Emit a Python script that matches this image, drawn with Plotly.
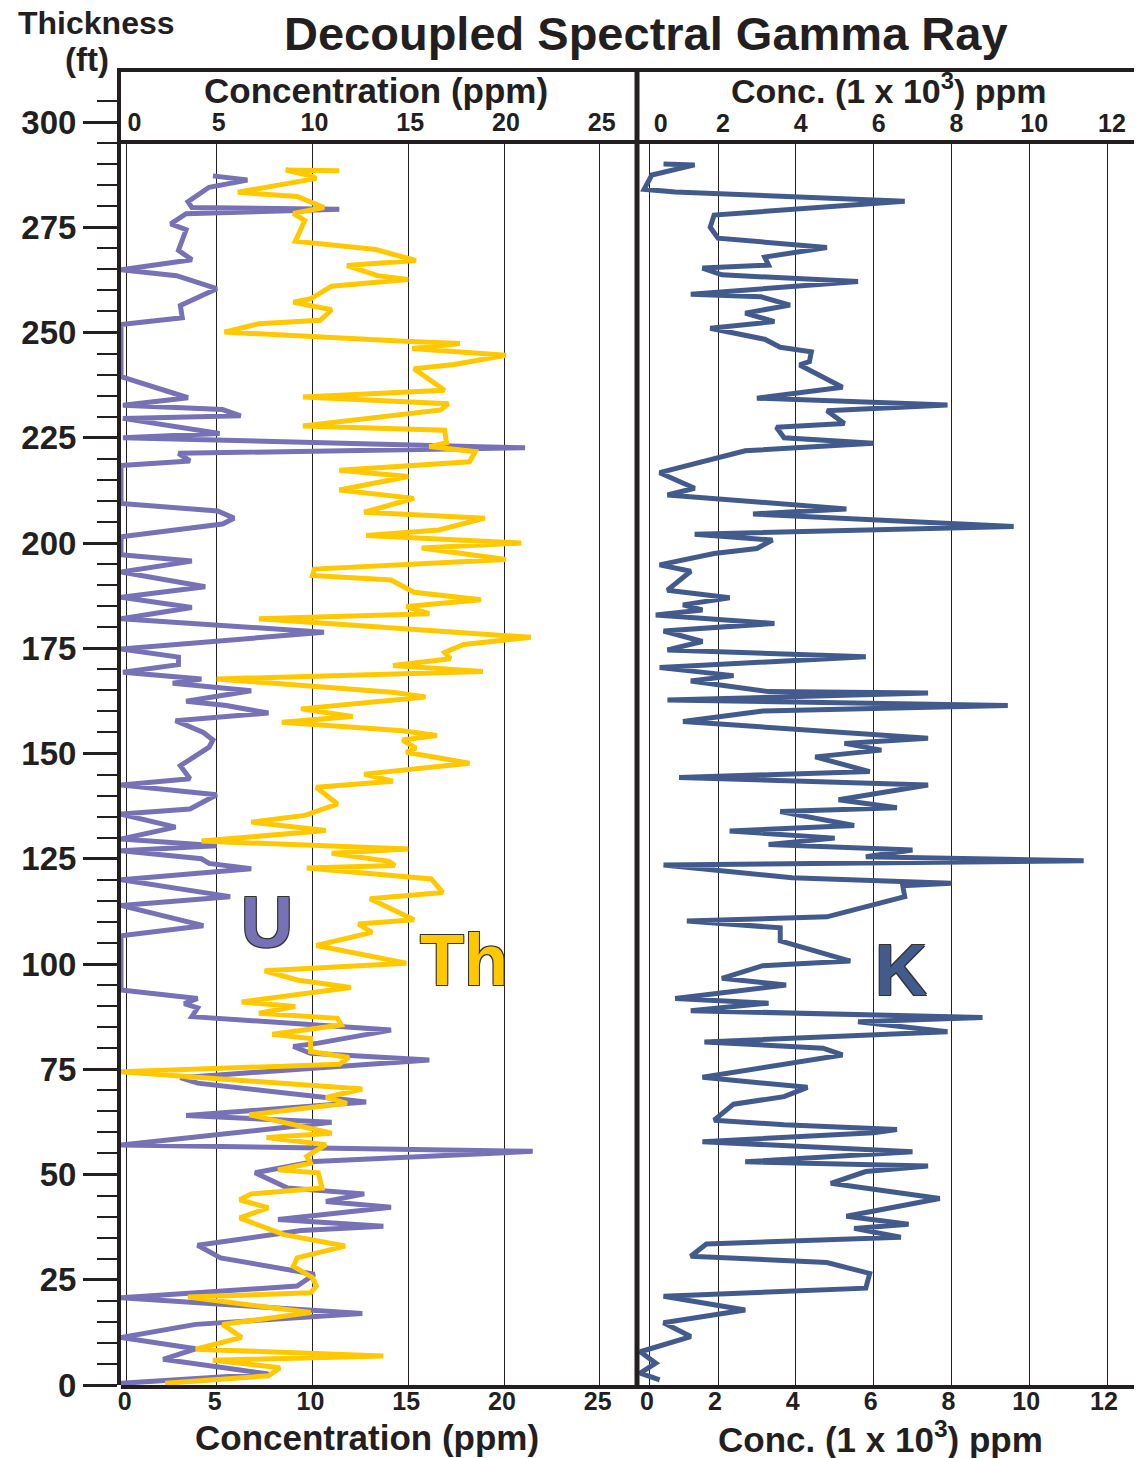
import plotly.graph_objects as go

# ---------------- data ----------------
U_ft = [287.2, 286.2, 284.5, 281.1, 279.7, 279.3, 278.2, 275.8, 274.4, 269.5, 267.3, 264.9, 263.5, 260.4,
        256.4, 253.5, 251.9, 239.5, 234.5, 232.7, 231.7, 230.2, 229.6, 226.0, 225.0, 222.6, 221.3, 219.5,
        218.4, 209.4, 207.6, 205.9, 204.5, 201.5, 197.2, 195.7, 193.1, 189.6, 187.1, 184.7, 182.0, 178.8,
        174.8, 172.9, 171.1, 169.3, 167.7, 166.7, 164.9, 162.4, 161.4, 159.6, 157.8, 155.0, 153.2, 151.5,
        147.1, 144.0, 142.5, 140.2, 136.8, 135.6, 132.5, 129.7, 128.1, 126.9, 125.0, 123.9, 122.6, 120.0,
        116.0, 113.9, 109.1, 106.7, 93.8, 91.8, 90.6, 89.6, 87.5, 85.5, 84.3, 81.2, 80.4, 78.8, 77.2,
        73.0, 71.7, 67.2, 64.0, 62.4, 57.0, 55.5, 53.1, 50.4, 46.8, 45.4, 43.6, 42.2, 39.3, 37.7, 36.7,
        33.2, 30.2, 26.3, 23.5, 20.7, 17.0, 14.4, 11.3, 8.6, 6.1, 2.6, 0.4]
U_ppm = [4.8, 6.6, 4.6, 3.5, 3.7, 11.4, 3.4, 2.6, 3.4, 3.0, 3.7, 0.0, 2.9, 5.0,
         3.1, 3.2, 0.0, 0.0, 3.5, 0.1, 5.3, 6.25, 0.1, 5.15, 0.1, 21.1, 3.0, 3.6,
         0.0, 0.0, 5.05, 5.9, 5.3, 0.0, 0.0, 3.7, 0.0, 4.4, 0.0, 3.7, 0.0, 10.6,
         0.0, 3.0, 3.0, 0.1, 4.2, 2.7, 6.8, 3.4, 5.5, 7.7, 2.85, 4.3, 4.8, 4.6,
         3.1, 3.6, 0.0, 5.0, 3.6, 0.0, 2.85, 0.0, 5.0, 0.0, 4.2, 4.6, 6.8, 0.0,
         5.7, 0.0, 4.3, 0.0, 0.0, 4.0, 3.3, 4.0, 3.7, 10.1, 14.1, 10.3, 9.0, 9.9, 16.1,
         3.1, 4.0, 12.8, 3.4, 11.0, 0.0, 21.5, 10.1, 7.0, 8.7, 12.7, 10.7, 14.1, 8.2, 13.7, 9.4,
         4.0, 5.2, 10.1, 9.2, 0.0, 12.6, 3.9, 0.0, 3.9, 2.2, 7.7, 0.0]

TH_ft = [288.4, 288.6, 287.2, 286.6, 283.3, 282.3, 279.7, 278.3, 276.6, 271.7, 269.7, 267.1, 265.9, 263.5,
         262.6, 261.0, 258.0, 257.2, 255.4, 252.9, 252.1, 250.1, 247.9, 247.4, 246.2, 244.6, 242.4, 241.4,
         236.3, 234.7, 233.1, 231.6, 227.8, 226.8, 223.8, 222.9, 221.7, 219.3, 217.3, 215.8, 212.6, 210.6,
         207.3, 205.9, 203.1, 201.8, 200.0, 198.8, 196.1, 193.8, 192.3, 191.2, 188.3, 186.5, 184.9, 183.2,
         182.0, 177.6, 175.9, 174.0, 172.5, 170.9, 169.5, 167.7, 164.5, 163.4, 160.6, 158.8, 157.4, 155.4,
         154.3, 153.2, 151.3, 150.3, 147.7, 145.1, 143.4, 142.0, 138.0, 135.3, 133.7, 131.7, 129.2, 127.3,
         126.3, 124.4, 123.4, 122.8, 120.2, 117.0, 115.5, 110.5, 109.5, 107.5, 104.4, 100.2, 98.4, 96.2,
         94.4, 91.0, 89.9, 88.3, 87.1, 85.5, 83.3, 82.3, 79.2, 77.8, 76.2, 74.4, 70.3, 68.3, 66.9, 64.2,
         59.8, 58.8, 57.1, 54.3, 52.7, 51.1, 50.4, 46.8, 45.4, 44.0, 42.1, 39.7, 35.7, 33.0, 30.2, 28.2,
         25.5, 23.5, 21.9, 20.9, 17.2, 14.4, 11.3, 8.5, 6.9, 5.9, 4.1, 2.2, 0.4]
TH_ppm = [11.4, 8.6, 9.9, 10.2, 6.1, 9.2, 10.6, 9.0, 9.6, 9.1, 13.3, 15.4, 11.8, 13.4,
          15.0, 11.0, 9.9, 9.0, 11.0, 10.4, 7.2, 5.4, 14.8, 17.7, 15.2, 20.1, 17.4, 15.3,
          16.9, 9.5, 17.1, 16.7, 9.5, 16.9, 17.0, 16.1, 18.5, 18.2, 11.4, 15.0, 11.4, 15.3,
          12.7, 19.0, 16.6, 12.8, 20.9, 15.7, 20.1, 10.1, 10.0, 14.1, 15.3, 18.8, 14.9, 16.1,
          7.2, 21.4, 17.9, 16.9, 17.2, 14.2, 18.9, 5.0, 14.3, 15.9, 9.4, 12.1, 8.4, 14.7,
          16.5, 14.7, 15.4, 14.9, 18.2, 12.7, 14.2, 10.2, 11.3, 9.6, 6.8, 10.7, 4.2, 15.0,
          11.0, 14.0, 14.3, 9.7, 16.2, 16.8, 13.0, 15.3, 12.4, 13.1, 10.2, 14.9, 7.5, 9.2,
          12.0, 6.3, 9.1, 7.2, 11.3, 11.5, 7.9, 9.9, 9.9, 11.9, 11.4, 0.0, 12.6, 10.7, 11.8, 6.7,
          11.0, 7.6, 10.7, 9.7, 9.9, 8.2, 10.3, 10.5, 6.8, 6.2, 7.7, 6.2, 8.5, 11.7, 9.2, 9.0,
          10.0, 10.2, 9.9, 3.5, 9.9, 5.3, 6.3, 3.9, 13.7, 4.8, 8.3, 7.7, 2.3]

K_ft = [290.0, 289.8, 287.4, 284.0, 283.4, 281.2, 277.9, 275.0, 272.4, 270.2, 267.9, 266.0, 265.3, 263.7,
        262.1, 259.1, 258.5, 256.5, 254.6, 252.6, 251.0, 248.4, 246.5, 245.4, 243.1, 242.3, 237.0, 234.4,
        232.8, 231.4, 228.4, 227.5, 225.0, 223.7, 221.9, 216.7, 213.0, 211.4, 208.1, 206.9, 203.9, 202.1,
        200.7, 198.7, 197.5, 194.8, 193.3, 188.8, 187.0, 185.3, 184.1, 182.9, 180.9, 179.1, 176.6, 174.6,
        173.0, 170.4, 168.5, 167.2, 164.7, 164.4, 162.7, 161.4, 160.1, 157.6, 153.6, 152.4, 150.8, 149.2,
        145.7, 144.3, 142.5, 139.0, 137.1, 136.2, 132.9, 131.6, 129.9, 128.4, 127.1, 125.5, 124.5, 123.5,
        120.5, 119.2, 118.6, 116.0, 111.2, 110.2, 108.6, 105.5, 100.7, 99.6, 96.6, 95.0, 91.8, 90.7,
        88.9, 87.3, 86.3, 83.9, 81.5, 80.0, 78.4, 73.1, 70.7, 68.5, 66.7, 62.9, 61.8, 60.7, 59.9,
        57.8, 55.4, 53.0, 52.0, 50.7, 47.9, 44.3, 40.1, 38.2, 37.2, 35.1, 33.5, 30.6, 29.1, 26.5,
        23.0, 21.1, 17.8, 14.8, 11.5, 7.9, 5.2, 2.8, 1.2]
K_kppm = [0.6, 1.4, 0.3, 0.1, 0.9, 6.8, 1.9, 1.8, 2.0, 4.8, 3.2, 3.3, 1.6, 2.1,
          5.6, 1.3, 3.1, 3.85, 2.7, 3.45, 1.8, 3.2, 3.6, 4.4, 4.35, 4.1, 5.2, 3.0,
          7.9, 4.8, 5.25, 3.5, 3.7, 6.0, 2.7, 0.5, 1.4, 0.7, 5.3, 2.9, 9.6, 1.4,
          3.4, 3.0, 1.9, 0.5, 1.3, 0.7, 2.3, 1.1, 1.6, 0.4, 3.45, 0.6, 1.6, 0.7,
          5.8, 0.5, 2.4, 1.3, 3.3, 7.4, 0.7, 9.45, 3.15, 1.1, 7.4, 5.25, 6.2, 4.5,
          5.9, 1.0, 7.4, 5.1, 6.6, 3.6, 5.5, 2.3, 5.0, 3.3, 7.0, 5.8, 11.4, 0.6,
          3.9, 8.0, 6.75, 6.8, 4.8, 1.2, 3.6, 3.6, 5.4, 3.15, 2.1, 3.75, 0.9, 3.3,
          1.3, 8.8, 5.6, 7.9, 1.65, 4.7, 5.2, 1.6, 4.3, 3.7, 2.4, 1.9, 3.7, 6.6, 6.0,
          1.6, 7.0, 2.7, 7.4, 5.8, 4.9, 7.7, 5.3, 6.9, 5.5, 6.7, 1.7, 1.3, 4.8, 5.9,
          5.8, 0.6, 2.7, 0.6, 1.3, 0.0, 0.4, 0.0, 0.5]

UTH_TICKS = [0, 5, 10, 15, 20, 25]
K_TICKS = [0, 2, 4, 6, 8, 10, 12]
DEPTH_MAJOR = list(range(0, 301, 25))
DEPTH_MINOR = [v for v in range(5, 306, 5) if v % 25]

# ---------------- layout geometry ----------------
# the page body has an 8 px margin, so the figure is made 8 px smaller and
# all reference pixel positions are shifted by that amount
OFF = 8
W, H = 1142 - OFF, 1458 - OFF
PLOT_L, PLOT_R, PLOT_T, PLOT_B = 121, 1142, 70, 1385          # reference pixels
ML, MR, MT, MB = PLOT_L - OFF, 0, PLOT_T - OFF, H - (PLOT_B - OFF)
PW, PH = PLOT_R - PLOT_L, PLOT_B - PLOT_T


def px(xp):
    return (xp - PLOT_L) / PW


def py(yp):
    return (PLOT_B - yp) / PH


FT_PER_PX = 1 / 4.21
Y_FULL = [0, PH * FT_PER_PX]
HDR = py(142)
Y_DATA = [0, Y_FULL[1] * HDR]
DIV = px(637)
XL = [0, (637 - 121) / 19.15]
XR = [(637 - 640.2) / 38.9, (1142 - 640.2) / 38.9]

INK = "#231f20"
FONT = "Liberation Sans, Arial, Helvetica, sans-serif"
U_COL = "#7771b5"
TH_COL = "#ffc800"
K_COL = "#435b8c"
LW = 5


def f(size, color=INK):
    return dict(family=FONT, size=size, color=color, weight="bold")


fig = go.Figure()
fig.add_trace(go.Scatter(x=U_ppm, y=U_ft, mode="lines", line=dict(color=U_COL, width=LW),
                         xaxis="x", yaxis="y", name="U"))
fig.add_trace(go.Scatter(x=TH_ppm, y=TH_ft, mode="lines", line=dict(color=TH_COL, width=LW),
                         xaxis="x", yaxis="y", name="Th"))
fig.add_trace(go.Scatter(x=K_kppm, y=K_ft, mode="lines", line=dict(color=K_COL, width=LW),
                         xaxis="x2", yaxis="y2", name="K"))
# carriers for the auxiliary axes
for xa, ya in (("x3", "y"), ("x4", "y2"), ("x5", "y3")):
    fig.add_trace(go.Scatter(x=[None], y=[None], xaxis=xa, yaxis=ya, mode="lines",
                             showlegend=False, hoverinfo="skip"))

common_x = dict(showgrid=True, gridcolor=INK, gridwidth=1.2, zeroline=False, showline=True,
                linewidth=4, linecolor=INK, ticks="", tickfont=f(25), ticklabelstandoff=-9)
fig.update_layout(
    width=W, height=H, margin=dict(l=ML, r=MR, t=MT, b=MB),
    paper_bgcolor="white", plot_bgcolor="rgba(0,0,0,0)", showlegend=False,
    xaxis=dict(domain=[0, DIV], range=XL, anchor="y", tickvals=[0.3] + UTH_TICKS[1:],
               ticktext=[str(v) for v in UTH_TICKS], ticklabelshift=-2, **common_x),
    yaxis=dict(domain=[0, HDR], range=Y_DATA, anchor="x", showticklabels=False,
               showgrid=False, zeroline=False, ticks=""),
    xaxis2=dict(domain=[DIV, 1], range=XR, anchor="y2", tickvals=[0.25] + K_TICKS[1:],
                ticktext=[str(v) for v in K_TICKS], ticklabelshift=-3, **common_x),
    yaxis2=dict(domain=[0, HDR], range=Y_DATA, anchor="x2", showticklabels=False,
                showgrid=False, zeroline=False, ticks=""),
    xaxis3=dict(overlaying="x", anchor="free", position=py(136), side="top", range=XL,
                tickvals=[0.6] + UTH_TICKS[1:], ticktext=[str(v) for v in UTH_TICKS],
                showgrid=False, zeroline=False, showline=False, ticks="", tickfont=f(25),
                ticklabelshift=2),
    xaxis4=dict(overlaying="x2", anchor="free", position=py(137), side="top", range=XR,
                tickvals=[0.4] + K_TICKS[1:], ticktext=[str(v) for v in K_TICKS],
                showgrid=False, zeroline=False, showline=False, ticks="", tickfont=f(25),
                ticklabelshift=5),
    xaxis5=dict(domain=[0, 1], range=[0, 1], anchor="y3", visible=False),
    yaxis3=dict(domain=[0, 1], range=Y_FULL, anchor="x5", side="left", tickvals=DEPTH_MAJOR,
                ticks="outside", ticklen=34, tickwidth=2.5, tickcolor=INK, showline=True,
                linewidth=4, linecolor=INK, showgrid=False, zeroline=False, tickfont=f(33),
                minor=dict(tickvals=DEPTH_MINOR, ticks="outside", ticklen=20, tickwidth=2,
                           tickcolor=INK)),
)

# frame of the log panels
line = dict(color=INK, width=4)
fig.add_shape(type="line", xref="paper", yref="paper", x0=px(117), x1=1, y0=1, y1=1, line=line)
fig.add_shape(type="line", xref="paper", yref="paper", x0=px(117), x1=1, y0=HDR, y1=HDR, line=line)
fig.add_shape(type="line", xref="paper", yref="paper", x0=DIV, x1=DIV, y0=0, y1=1,
              line=dict(color=INK, width=5))


# texts
def ann(text, xp, yp, size, **kw):
    fig.add_annotation(text=text, xref="paper", yref="paper", x=px(xp), y=py(yp),
                       xanchor="center", yanchor="middle", showarrow=False, font=f(size), **kw)


ann("Decoupled Spectral Gamma Ray", 646, 33, 47)
ann("Thickness", 96, 23, 32)
ann("(ft)", 87, 60, 33)
ann("Concentration (ppm)", 376, 91, 35)
ann("Conc. (1 x 10<sup>3</sup>) ppm", 889, 89, 34)
ann("Concentration (ppm)", 367, 1437, 35)
ann("Conc. (1 x 10<sup>3</sup>) ppm", 880, 1437, 35)

outline = "-1px -1px 0 #333, 1px -1px 0 #333, -1px 1px 0 #333, 1px 1px 0 #333"
for txt, col, xa, ya, xv, yv in (("U", U_COL, "x", "y", 7.6, 110.0),
                                 ("Th", TH_COL, "x", "y", 17.9, 101.0),
                                 ("K", K_COL, "x2", "y2", 6.7, 98.5)):
    fig.add_annotation(text=txt, xref=xa, yref=ya, x=xv, y=yv, showarrow=False,
                       xanchor="center", yanchor="middle",
                       font=dict(family=FONT, size=72, color=col, weight="bold", shadow=outline))

fig.write_html("out.html")
